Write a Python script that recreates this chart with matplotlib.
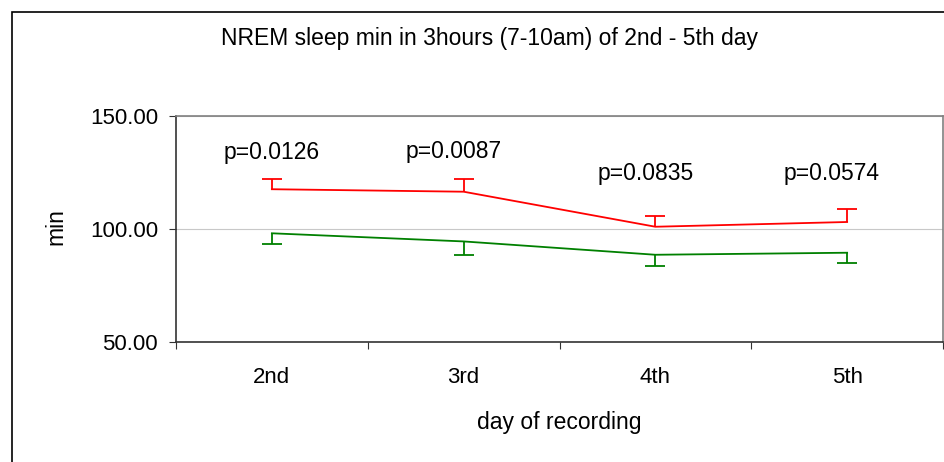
import matplotlib
matplotlib.use("Agg")
import matplotlib.pyplot as plt
from matplotlib.patches import Rectangle

days = ["2nd", "3rd", "4th", "5th"]
red_mean = [117.6, 116.5, 101.0, 103.1]
red_err = [4.5, 5.6, 4.8, 5.7]
green_mean = [98.1, 94.5, 88.6, 89.5]
green_err = [4.7, 5.9, 4.8, 4.7]
p_labels = ["p=0.0126", "p=0.0087", "p=0.0835", "p=0.0574"]
p_y = [133.8, 134.3, 124.6, 124.6]
p_xoff = [0.0, -0.05, -0.05, -0.08]
yticks = [50, 100, 150]

plt.rcParams['font.family'] = ['Liberation Sans', 'DejaVu Sans']

W, H = 944, 462
fig = plt.figure(figsize=(W / 100, H / 100), dpi=100)
fig.patch.set_facecolor('white')

# outer chart border
fig.add_artist(Rectangle((12 / W, -0.1), 1.2, 1 - 12 / H + 0.1, transform=fig.transFigure,
                         fill=False, edgecolor='black', linewidth=1.2))

ax = fig.add_axes([176 / W, 1 - 342 / H, (943 - 176) / W, (342 - 116) / H])
x = list(range(len(days)))

r = ax.errorbar(x, red_mean, yerr=[[0] * 4, red_err], color='#FF0000', lw=1.3,
                capsize=7.5, capthick=1.3, elinewidth=1.3)
r[1][0].set_visible(False)
g = ax.errorbar(x, green_mean, yerr=[green_err, [0] * 4], color='#008000', lw=1.3,
                capsize=7.5, capthick=1.3, elinewidth=1.3)
g[1][1].set_visible(False)

for xi, lab, yy, dx in zip(x, p_labels, p_y, p_xoff):
    ax.text(xi + dx, yy, lab, ha='center', va='center', fontsize=16.5, color='black')

ax.set_xlim(-0.5, 3.5)
ax.set_ylim(50, 150)
ax.set_yticks(yticks)
ax.set_yticklabels([f"{v:.2f}" for v in yticks], fontsize=16)
ax.set_xticks([-0.5, 0.5, 1.5, 2.5, 3.5])
ax.set_xticklabels([])
ax.set_xticks(x, minor=True)
ax.set_xticklabels(days, minor=True, fontsize=16)
ax.tick_params(axis='x', which='minor', length=0, pad=18)
ax.tick_params(axis='x', which='major', length=5, color='#333333')
ax.tick_params(axis='y', length=5, color='#333333', pad=8)
ax.yaxis.grid(True, color='#c8c8c8', lw=0.8)
ax.set_axisbelow(True)

for s in ['top', 'right']:
    ax.spines[s].set_color('#808080')
    ax.spines[s].set_linewidth(1.2)
for s in ['left', 'bottom']:
    ax.spines[s].set_color('#333333')
    ax.spines[s].set_linewidth(1.2)

fig.text(490 / W, 1 - 38 / H, "NREM sleep min in 3hours (7-10am) of 2nd - 5th day",
         ha='center', va='center', fontsize=16.5)
fig.text(56 / W, 1 - 227 / H, "min", ha='center', va='center', rotation=90, fontsize=16.5)
fig.text(559 / W, 1 - 422 / H, "day of recording", ha='center', va='center', fontsize=16.5)

fig.savefig("out.png", dpi=100)
